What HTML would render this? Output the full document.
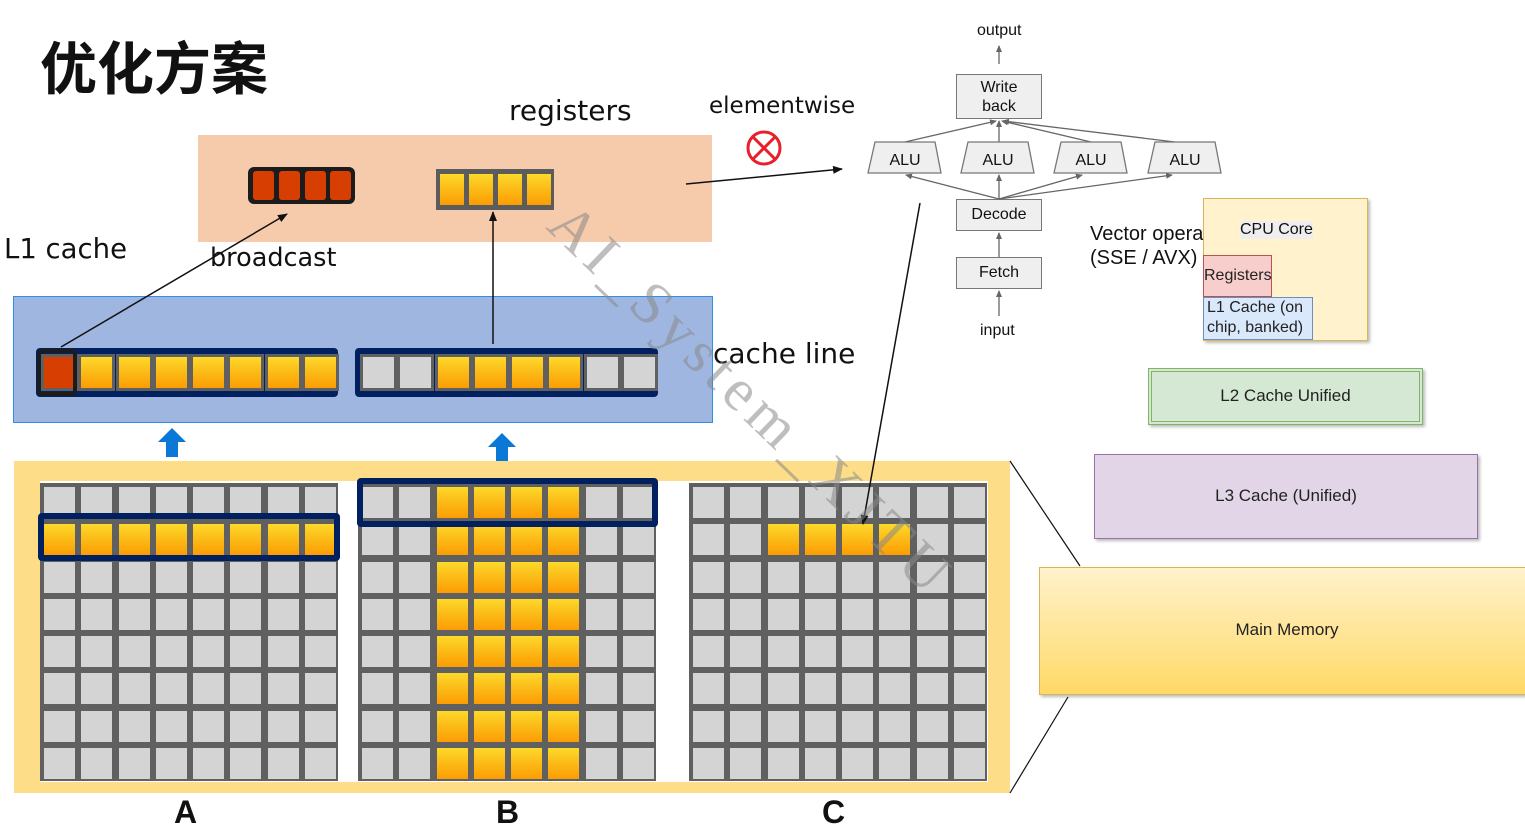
<!DOCTYPE html>
<html><head><meta charset="utf-8">
<style>
*{margin:0;padding:0;box-sizing:border-box}
body{width:1525px;height:833px;position:relative;background:#fff;overflow:hidden;font-family:"Liberation Sans","Noto Sans CJK SC",sans-serif}
.a{position:absolute}
.t{position:absolute;white-space:nowrap;color:#111}
.cell{position:absolute;width:31px;height:31px;background:#d4d4d4}
.o{background:linear-gradient(#fcd92a,#fc9c04)}
.r{background:#d73e02}
.box{position:absolute;background:#efefef;border:1.5px solid #777;font-size:16px;text-align:center;color:#111}
</style></head><body>

<div class="t" style="left:40px;top:24px;font-size:57px;font-weight:bold;font-family:'Noto Sans CJK SC',sans-serif;color:#111">优化方案</div>

<!-- registers -->
<div class="a" style="left:198px;top:135px;width:514px;height:107px;background:#f6cbac"></div>
<div class="a" style="left:248px;top:167px;width:107px;height:37px;background:#1c1c1c;border-radius:6px"></div>
<div class="a r" style="left:253px;top:171px;width:21px;height:29px;border-radius:3px"></div>
<div class="a r" style="left:279px;top:171px;width:21px;height:29px;border-radius:3px"></div>
<div class="a r" style="left:305px;top:171px;width:21px;height:29px;border-radius:3px"></div>
<div class="a r" style="left:330px;top:171px;width:21px;height:29px;border-radius:3px"></div>
<div class="a" style="left:436px;top:169px;width:118px;height:41px;background:#5c5c5c"></div>
<div class="a o" style="left:440px;top:174px;width:24px;height:31px"></div>
<div class="a o" style="left:469px;top:174px;width:24px;height:31px"></div>
<div class="a o" style="left:498px;top:174px;width:24px;height:31px"></div>
<div class="a o" style="left:527px;top:174px;width:24px;height:31px"></div>

<!-- L1 -->
<div class="a" style="left:13px;top:296px;width:700px;height:127px;background:#9eb6e0;border:1px solid #2f8fe6"></div>
<div class="a" style="left:36px;top:348px;width:302px;height:49px;background:#012060;border-radius:4px"></div>
<div class="a" style="left:355px;top:348px;width:303px;height:49px;background:#012060;border-radius:4px"></div>

<svg class="a" style="left:0;top:0" width="1525" height="833">
<polygon points="172,428 186,442 178,442 178,457 166,457 166,442 158,442" fill="#0a78d6"/>
<polygon points="502,433 516,447 508,447 508,462 496,462 496,447 488,447" fill="#0a78d6"/>
</svg>

<!-- memory area -->
<div class="a" style="left:14px;top:461px;width:996px;height:332px;background:#fddd88"></div>
<div class="a" style="left:40px;top:481px;width:948px;height:301px;background:#fff"></div>
<div id="grids"></div>

<div class="t" style="left:174px;top:794px;font-size:32px;font-weight:bold">A</div>
<div class="t" style="left:496px;top:794px;font-size:32px;font-weight:bold">B</div>
<div class="t" style="left:822px;top:794px;font-size:32px;font-weight:bold">C</div>

<div class="t" style="left:509px;top:94px;font-size:28px;font-family:'DejaVu Sans',sans-serif">registers</div>
<div class="t" style="left:709px;top:93px;font-size:23px;font-family:'DejaVu Sans',sans-serif">elementwise</div>
<div class="t" style="left:4px;top:233px;font-size:27.5px;font-family:'DejaVu Sans',sans-serif">L1 cache</div>
<div class="t" style="left:210px;top:243px;font-size:25.5px;font-family:'DejaVu Sans',sans-serif">broadcast</div>
<div class="t" style="left:713px;top:337px;font-size:28px;font-family:'DejaVu Sans',sans-serif">cache line</div>

<!-- pipeline -->
<div class="t" style="left:977px;top:22px;font-size:16px">output</div>
<div class="box" style="left:956px;top:74px;width:86px;height:45px;line-height:19px;padding-top:3px">Write<br>back</div>
<div class="box" style="left:956px;top:199px;width:86px;height:32px;line-height:29px">Decode</div>
<div class="box" style="left:956px;top:257px;width:86px;height:32px;line-height:29px">Fetch</div>
<div class="t" style="left:980px;top:322px;font-size:16px">input</div>
<div class="t" style="left:1090px;top:222px;font-size:20px;line-height:24px">Vector opera<br>(SSE / AVX)</div>

<div class="a" style="left:1203px;top:198px;width:165px;height:143px;background:#fff2cc;border:1.5px solid #d6b656;box-shadow:2px 2px 3px #bbb"></div>
<div class="t" style="left:1240px;top:221px;font-size:16px;background:#eee">CPU Core</div>
<div class="a" style="left:1203px;top:255px;width:69px;height:42px;background:#f8cecc;border:1.5px solid #b85450;font-size:16px;line-height:40px;color:#222">Registers</div>
<div class="a" style="left:1203px;top:297px;width:110px;height:43px;background:#dae8fc;border:1.5px solid #6c8ebf;font-size:16px;line-height:20px;padding-left:3px;color:#222">L1 Cache (on<br>chip, banked)</div>

<div class="a" style="left:1148px;top:368px;width:275px;height:57px;background:#d5e8d4;border:1.5px solid #82b366;box-shadow:2px 2px 3px #bbb"><div style="position:absolute;left:2px;top:2px;right:2px;bottom:2px;border:1.5px solid #82b366;text-align:center;line-height:48px;font-size:17px;color:#222">L2 Cache Unified</div></div>
<div class="a" style="left:1094px;top:454px;width:384px;height:85px;background:#e1d5e7;border:1.5px solid #9673a6;box-shadow:2px 2px 3px #bbb;text-align:center;line-height:82px;font-size:17px;color:#222">L3 Cache (Unified)</div>
<div class="a" style="left:1039px;top:567px;width:500px;height:128px;background:linear-gradient(#fff2cc,#ffd966);border:1.5px solid #d6b656;box-shadow:2px 2px 3px #bbb;font-size:17px;color:#222"><div style="position:absolute;left:0;width:494px;top:52px;text-align:center">Main Memory</div></div>

<svg class="a" style="left:0;top:0" width="1525" height="833">
<defs>
<marker id="ar" markerWidth="10" markerHeight="8" refX="9" refY="4" orient="auto" markerUnits="userSpaceOnUse"><path d="M0,0 L10,4 L0,8 z" fill="#111"/></marker>
<marker id="gr" markerWidth="7" markerHeight="6" refX="6" refY="3" orient="auto" markerUnits="userSpaceOnUse"><path d="M0,0 L7,3 L0,6 z" fill="#666"/></marker>
</defs>
<g stroke="#666" stroke-width="1.3" fill="none">
<line x1="999" y1="64" x2="999" y2="46" marker-end="url(#gr)"/>
<line x1="999" y1="142" x2="999" y2="121" marker-end="url(#gr)"/>
<line x1="905" y1="142" x2="996" y2="121" marker-end="url(#gr)"/>
<line x1="1091" y1="142" x2="1002" y2="121" marker-end="url(#gr)"/>
<line x1="1175" y1="142" x2="1003" y2="121" marker-end="url(#gr)"/>
<line x1="999" y1="199" x2="999" y2="175" marker-end="url(#gr)"/>
<line x1="999" y1="199" x2="906" y2="175" marker-end="url(#gr)"/>
<line x1="999" y1="199" x2="1082" y2="175" marker-end="url(#gr)"/>
<line x1="999" y1="199" x2="1172" y2="175" marker-end="url(#gr)"/>
<line x1="999" y1="257" x2="999" y2="233" marker-end="url(#gr)"/>
<line x1="999" y1="316" x2="999" y2="291" marker-end="url(#gr)"/>
</g>
<g fill="#efefef" stroke="#777" stroke-width="1.3">
<polygon points="875,142 935,142 941,173 868,173"/>
<polygon points="968,142 1028,142 1034,173 961,173"/>
<polygon points="1061,142 1121,142 1127,173 1054,173"/>
<polygon points="1155,142 1215,142 1221,173 1148,173"/>
</g>
<g font-family="Liberation Sans" font-size="16" fill="#111" text-anchor="middle">
<text x="905" y="165">ALU</text><text x="998" y="165">ALU</text><text x="1091" y="165">ALU</text><text x="1185" y="165">ALU</text>
</g>
<g stroke="#111" stroke-width="1.5">
<line x1="686" y1="184" x2="842" y2="169" marker-end="url(#ar)"/>
<line x1="61" y1="347" x2="287" y2="214" marker-end="url(#ar)"/>
<line x1="493" y1="344" x2="493" y2="212" marker-end="url(#ar)"/>
<line x1="920" y1="203" x2="863" y2="524" marker-end="url(#ar)"/>
<line x1="1010" y1="461" x2="1080" y2="566" stroke-width="1.2"/>
<line x1="1010" y1="793" x2="1068" y2="697" stroke-width="1.2"/>
</g>
<circle cx="764" cy="148" r="16" fill="none" stroke="#e8202a" stroke-width="3"/>
<line x1="753" y1="137" x2="775" y2="159" stroke="#e8202a" stroke-width="3"/>
<line x1="775" y1="137" x2="753" y2="159" stroke="#e8202a" stroke-width="3"/>
<text x="0" y="0" transform="translate(545,228) rotate(44)" font-family="Liberation Serif" font-size="60" fill="#888" fill-opacity="0.55" textLength="530">AI_System_XJTU</text>
</svg>

<script>
var g=document.getElementById('grids'),h='';
function grid(x0,y0,orange){
  h+='<div class="a" style="left:'+x0+'px;top:'+y0+'px;width:298px;height:298px;background:#606060"></div>';
  for(var r=0;r<8;r++)for(var c=0;c<8;c++){
    var x=x0+4+c*37.25,y=y0+4+r*37.25;
    h+='<div class="cell'+(orange(r,c)?' o':'')+'" style="left:'+x+'px;top:'+y+'px"></div>';
  }
}
grid(40,483,function(r,c){return r==1});
grid(358,483,function(r,c){return c>=2&&c<=5});
grid(689,483,function(r,c){return r==1&&c>=2&&c<=5});
function outline(x,y,w,hh){h+='<div class="a" style="left:'+x+'px;top:'+y+'px;width:'+w+'px;height:'+hh+'px;border:6px solid #012060;border-radius:4px"></div>';}
outline(38,513,302,48);
outline(357,478,301,49);
function line(x0,y0,f){
  for(var c=0;c<8;c++){
    var x=x0+c*37.25;
    h+='<div class="a" style="left:'+(x-3)+'px;top:'+(y0-3)+'px;width:37px;height:37px;background:#606060"></div>';
  }
  for(var c=0;c<8;c++){
    var x=x0+c*37.25,k=f(c);
    h+='<div class="cell '+k+'" style="left:'+x+'px;top:'+y0+'px;height:31px"></div>';
  }
}
line(44,357,function(c){return c==0?'r':'o'});
line(363,357,function(c){return (c>=2&&c<=5)?'o':''});
h+='<div class="a" style="left:37px;top:349px;width:40px;height:47px;border:4px solid #1c1c1c;border-radius:5px"></div>';
g.innerHTML=h;
</script>
</body></html>
